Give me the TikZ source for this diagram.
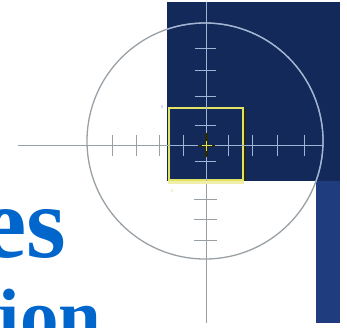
\documentclass[tikz,border=0pt]{standalone}
\usepackage{fontspec}
\newfontfamily\titlefont{Liberation Serif}
\definecolor{navy}{RGB}{19,41,90}
\definecolor{strip}{RGB}{31,61,126}
\definecolor{titleblue}{RGB}{0,102,204}
\definecolor{graylin}{RGB}{152,160,166}
\definecolor{lightlin}{RGB}{160,180,214}
\definecolor{sqyellow}{RGB}{226,226,100}
\definecolor{crossdark}{RGB}{40,40,10}
\tikzset{
  title/.style={text=titleblue, inner sep=0pt, anchor=base west},
  mainline/.style={line width=1.3pt},
  tick/.style={line width=1pt},
}
\begin{document}
\begin{tikzpicture}[x=1pt,y=-1pt]
\useasboundingbox (0,0) rectangle (347,327);
\clip (0,0) rectangle (347,327);
% background blocks
\fill[navy] (167,2) rectangle (340,181);
\fill[strip] (316,181) rectangle (340,323);
% title fragments
\node[title, font=\titlefont\bfseries\fontsize{102}{102}\selectfont] (es) at (-18.8,257) {es};
\node[title, font=\titlefont\bfseries\fontsize{77}{77}\selectfont] (ion) at (-1.3,342) {ion};
% circle (gray on white)
\draw[graylin, mainline] (205,141) circle[radius=118];
% main lines on white
\draw[graylin, mainline] (18,145.7) -- (167,145.7);
\draw[graylin, mainline] (206.7,181) -- (206.7,323);
\foreach \x in {112,136,159} \draw[graylin, tick] (\x,135) -- (\x,156);
\foreach \y in {199,219,240.7} \draw[graylin, tick] (194,\y) -- (216.5,\y);
% parts on navy
\begin{scope}
  \clip (167,2) rectangle (340,181) (316,181) rectangle (340,323);
  \draw[lightlin, mainline] (205,141) circle[radius=118];
\end{scope}
% target square
\draw[crossdark, line width=1.4pt] (245,109) -- (245,181);
\fill[sqyellow!55] (168,180.5) rectangle (244,183.5);
\draw[sqyellow, line width=2.2pt] (168.6,108.3) rectangle (243.3,180.3);
% crosshair lines on navy
\draw[lightlin, mainline] (167,145.7) -- (323,145.7);
\draw[lightlin, mainline] (206.7,2) -- (206.7,181);
\foreach \x in {183.7,228,252.3,277.3,304.3} \draw[lightlin, tick] (\x,135) -- (\x,156);
\foreach \y in {48.3,70.3,96.7,125,161} \draw[lightlin, tick] (194.5,\y) -- (216,\y);
% centre cross
\draw[crossdark, line width=3pt] (206.7,133) -- (206.7,157);
\draw[crossdark, line width=2pt] (198,145.7) -- (215,145.7);
\draw[sqyellow, line width=1.5pt] (201.5,145.7) -- (212,145.7) (206.7,140.5) -- (206.7,151);
% specks
\fill[blue!15] (160.5,104.5) rectangle (162.5,108);
\fill[sqyellow!40] (171,189) rectangle (173,192);
\end{tikzpicture}
\end{document}
